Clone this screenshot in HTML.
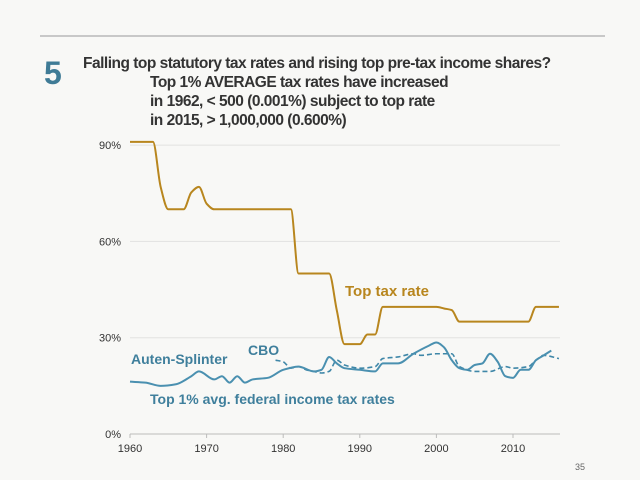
<!DOCTYPE html>
<html><head><meta charset="utf-8"><style>
body{margin:0;background:#f8f8f6;}
svg{display:block;font-family:"Liberation Sans",sans-serif;}
</style></head><body>
<svg width="640" height="480">
<rect width="640" height="480" fill="#f8f8f6"/>
<line x1="40" y1="36" x2="605" y2="36" stroke="#999" stroke-width="1"/>
<text x="44" y="84" font-size="32" font-weight="bold" fill="#3f7b96">5</text>
<g font-size="15.5" font-weight="bold" fill="#333" letter-spacing="-0.5">
<text x="83" y="68">Falling top statutory tax rates and rising top pre-tax income shares?</text>
<text x="150" y="87">Top 1% AVERAGE tax rates have increased</text>
<text x="150" y="106">in 1962, &lt; 500 (0.001%) subject to top rate</text>
<text x="150" y="125">in 2015, &gt; 1,000,000 (0.600%)</text>
</g>
<g id="grid"></g>
<g id="axes"></g>
<g id="series"></g>
<text x="345" y="296" font-size="15" font-weight="bold" fill="#b8861e">Top tax rate</text>
<text x="248" y="355" font-size="14" font-weight="bold" fill="#3f7f9c">CBO</text>
<text x="131" y="364" font-size="14" font-weight="bold" fill="#3f7f9c">Auten-Splinter</text>
<text x="150" y="404" font-size="14" font-weight="bold" fill="#3f7f9c">Top 1% avg. federal income tax rates</text>
<text x="585" y="470" font-size="9" fill="#666" text-anchor="end">35</text>
</svg>
<script>
const xTicks=[1960,1970,1980,1990,2000,2010];
const yTicks=[0,30,60,90];
const topYears=[1960,1961,1962,1963,1964,1965,1966,1967,1968,1969,1970,1971,1981,1982,1986,1987,1988,1990,1991,1992,1993,2000,2001,2002,2003,2012,2013,2016];
const topRate=[91,91,91,91,77,70,70,70,75.25,77,71.75,70,70,50,50,38.5,28,28,31,31,39.6,39.6,39.1,38.6,35,35,39.6,39.6];
const asYears=[1960,1962,1964,1966,1968,1969,1971,1972,1973,1974,1975,1976,1978,1980,1982,1984,1985,1986,1987,1988,1990,1992,1993,1995,1997,1999,2000,2001,2002,2003,2004,2005,2006,2007,2008,2009,2010,2011,2012,2013,2014,2015];
const asRate=[16.3,16,15,15.5,18,19.5,17,18,16,18,16,17,17.5,20,21,19.5,20,24,22,20.5,20,19.5,22,22,25,27.5,28.5,27,23,20.5,20,21.5,22,25,22.5,18,17.5,20,20,23,24.5,26];
const cboYears=[1979,1980,1981,1982,1983,1984,1985,1986,1987,1988,1990,1992,1993,1995,1997,1998,2000,2002,2003,2005,2007,2009,2010,2012,2013,2014,2016];
const cboRate=[23,22.5,20.5,21,20,19.5,19,19.5,23,21.5,20.5,21,23.5,24,25,24.5,25,25,21,19.5,19.5,21,20.5,21,23,24.5,23.5];
const X=y=>130+(y-1960)*7.66, Y=v=>434-v*3.21;
const NS='http://www.w3.org/2000/svg';
function mk(t,a,p){const e=document.createElementNS(NS,t);for(const k in a)e.setAttribute(k,a[k]);p.appendChild(e);return e;}
const grid=document.getElementById('grid'),axes=document.getElementById('axes'),ser=document.getElementById('series');
yTicks.forEach(v=>{
 if(v>0){const g=mk('line',{x1:130,x2:560,y1:Y(v),y2:Y(v),stroke:'#e2e2e0','stroke-width':1},grid);
 
 }
 const t=mk('text',{x:121,y:Y(v)+4,'font-size':11,fill:'#333','text-anchor':'end'},axes);t.textContent=v+'%';
 
 
});
const base=mk('line',{x1:130,x2:560,y1:434,y2:434,stroke:'#bbb','stroke-width':1},axes);


xTicks.forEach(v=>{
 mk('line',{x1:X(v),x2:X(v),y1:434,y2:438,stroke:'#bbb'},axes);
 const t=mk('text',{x:X(v),y:452,'font-size':11,fill:'#333','text-anchor':'middle'},axes);t.textContent=v;
 
 
});
function path(xs,vs){
 const px=xs.map(X),py=vs.map(Y),n=px.length;
 const d=[],m=[];
 for(let i=0;i<n-1;i++)d.push((py[i+1]-py[i])/(px[i+1]-px[i]));
 m[0]=d[0];m[n-1]=d[n-2];
 for(let i=1;i<n-1;i++){m[i]=(d[i-1]*d[i]<=0)?0:2/(1/d[i-1]+1/d[i]);}
 let s='M'+px[0]+','+py[0];
 for(let i=0;i<n-1;i++){const h=(px[i+1]-px[i])/3;
  s+=' C'+(px[i]+h)+','+(py[i]+m[i]*h)+' '+(px[i+1]-h)+','+(py[i+1]-m[i+1]*h)+' '+px[i+1]+','+py[i+1];}
 return s;}
const l1=mk('path',{d:path(topYears,topRate),fill:'none',stroke:'#b8861e','stroke-width':2},ser);


const l3=mk('path',{d:path(cboYears,cboRate),fill:'none',stroke:'#3f87a8','stroke-width':1.6,'stroke-dasharray':'5,3'},ser);


const l2=mk('path',{d:path(asYears,asRate),fill:'none',stroke:'#4a90b0','stroke-width':2},ser);


</script>
</body></html>
